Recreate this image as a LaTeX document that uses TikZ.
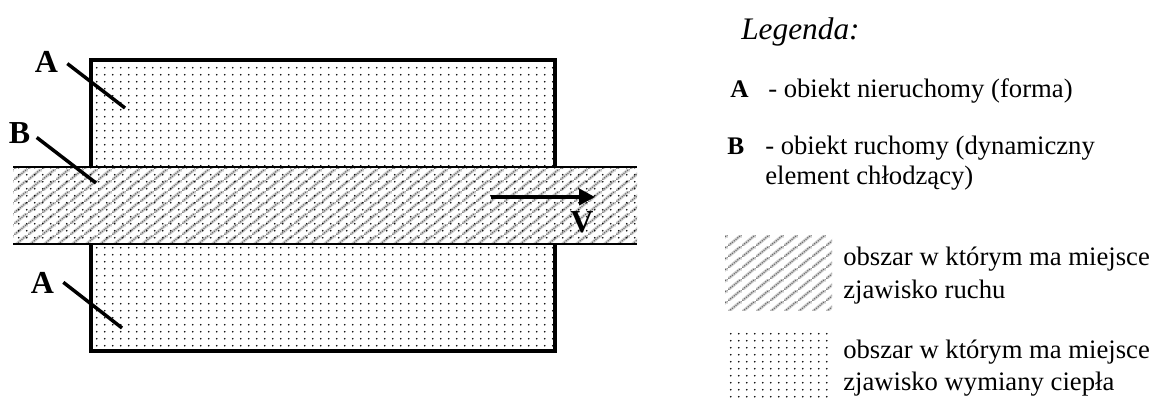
\documentclass[tikz,border=0pt]{standalone}
\usepackage{fontspec}
\setmainfont{Liberation Serif}
\usetikzlibrary{patterns.meta,arrows.meta}
\tikzdeclarepattern{
  name=dotgrid, type=colored,
  bottom left={(0pt,0pt)}, top right={(5.8pt,5.4pt)},
  tile size={(5.8pt,5.4pt)},
  code={\fill[black] (2.9pt,2.7pt) circle (0.75pt);}
}
\tikzdeclarepattern{
  name=hatchgray, type=colored,
  bottom left={(0pt,0pt)}, top right={(10.5pt,8.2pt)},
  tile size={(10.5pt,8.2pt)},
  code={\draw[black!18, line width=2.3pt] (-1.05pt,-0.82pt) -- (11.55pt,9.02pt);
        \draw[black!60, line width=0.8pt, dash pattern=on 0.9pt off 0.9pt] (-1.05pt,-0.82pt) -- (11.55pt,9.02pt);}
}
\begin{document}
\begin{tikzpicture}[x=0.75pt,y=-0.75pt,
  outline/.style={line width=2.6pt, line join=miter},
  thinedge/.style={line width=1pt},
  leader/.style={line width=2.6pt},
  biglabel/.style={font=\fontsize{24}{28}\selectfont\bfseries, inner sep=0pt, anchor=base},
  legtext/.style={font=\fontsize{20}{24}\selectfont, inner sep=0pt, anchor=base west},
  legkey/.style={font=\fontsize{19}{22}\selectfont\bfseries, inner sep=0pt, anchor=base west}]
\useasboundingbox (0,0) rectangle (1157,399);
% fills
\fill[pattern=dotgrid] (91,60) rectangle (555,167);
\fill[pattern=dotgrid] (91,244) rectangle (555,351);
\fill[pattern=hatchgray] (13,167) rectangle (637,244);
\fill[pattern=dotgrid] (13,167) rectangle (637,244);
% outlines
\draw[thinedge] (13,167) -- (637,167) (13,244) -- (637,244);
\draw[outline] (91,167) -- (91,60) -- (555,60) -- (555,167);
\draw[outline] (91,244) -- (91,351) -- (555,351) -- (555,244);
% labels and leaders
\node[biglabel] (A1) at (46.5,73) {A};
\coordinate (A1e) at (125,108);
\draw[leader] ([shift={(9,12)}]A1.north east) -- (A1e);
\node[biglabel] (B1) at (19.5,144) {B};
\coordinate (B1e) at (96,183);
\draw[leader] ([shift={(6.3,14.7)}]B1.north east) -- (B1e);
\node[biglabel] (A2) at (42.5,293) {A};
\coordinate (A2e) at (122,328);
\draw[leader] ([shift={(9,10.7)}]A2.north east) -- (A2e);
% velocity arrow
\coordinate (vs) at (491,197);
\coordinate (ve) at (595,197);
\draw[line width=3.2pt, -{Triangle[length=12pt,width=12pt]}] (vs) -- (ve);
\node[biglabel] (V) at (582,233) {V};
% legend
\node[font=\fontsize{23.5}{28}\selectfont\itshape, inner sep=0pt, anchor=base west] (leg) at (741,40) {Legenda:};
\node[legkey] (ka) at (730,98) {A};
\node[legtext] (ta) at (768,98) {- obiekt nieruchomy (forma)};
\node[legkey] (kb) at (727,155) {B};
\node[legtext] (tb1) at (765,155) {- obiekt ruchomy (dynamiczny};
\node[legtext] (tb2) at (765,185) {element chłodzący)};
\fill[pattern=hatchgray] (725,235) rectangle (832,310);
\fill[pattern=dotgrid] (725,328) rectangle (830,399);
\node[legtext] (h1) at (843,266) {obszar w którym ma miejsce};
\node[legtext] (h2) at (843,298) {zjawisko ruchu};
\node[legtext] (d1) at (843,358) {obszar w którym ma miejsce};
\node[legtext] (d2) at (843,390) {zjawisko wymiany ciepła};
\end{tikzpicture}
\end{document}
